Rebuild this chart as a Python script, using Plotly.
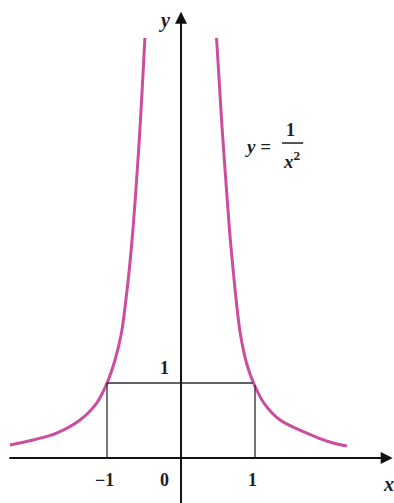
import plotly.graph_objects as go

# points, left and right branch of y = 1/x^2
left_x = [-2.31, -2.0, -1.68, -1.365, -1.14, -1.0, -0.892, -0.805, -0.745, -0.70,
          -0.65, -0.60, -0.556, -0.518, -0.488]
left_y = [0.173, 0.24, 0.333, 0.507, 0.733, 1.0, 1.307, 1.667, 2.107, 2.5,
          3.04, 3.71, 4.37, 5.04, 5.6]
right_x = [0.48, 0.515, 0.557, 0.605, 0.655, 0.705, 0.745, 0.80, 0.885, 0.98,
           1.12, 1.34, 1.70, 2.01, 2.24]
right_y = [5.6, 5.04, 4.37, 3.71, 3.04, 2.5, 2.107, 1.667, 1.267, 1.0,
           0.733, 0.507, 0.333, 0.213, 0.16]

tick_x = [-1, 0, 1]
tick_x_text = ["\u22121", "0", "1"]

curve_color = "#cc4c9e"
ink = "#1e1e24"
serif = "Liberation Serif"

fig = go.Figure()
for xs, ys in [(left_x, left_y), (right_x, right_y)]:
    fig.add_trace(go.Scatter(x=xs, y=ys, mode="lines",
                             line=dict(color=curve_color, width=3, shape="spline", smoothing=1.0),
                             hoverinfo="skip", showlegend=False))

# rectangle under the curve between -1 and 1
fig.add_shape(type="line", x0=-1, y0=0, x1=-1, y1=1, line=dict(color="#2b2b33", width=1.3))
fig.add_shape(type="line", x0=1, y0=0, x1=1, y1=0.97, line=dict(color="#2b2b33", width=1.3))
fig.add_shape(type="line", x0=-1, y0=1, x1=0.97, y1=1, line=dict(color="#2b2b3a", width=1.3))

# axes with arrows
fig.add_annotation(x=2.86, y=0, ax=-2.34, ay=0, axref="x", ayref="y", xref="x", yref="y",
                   showarrow=True, arrowhead=2, arrowsize=1.2, arrowwidth=2, arrowcolor="#111",
                   text="")
fig.add_annotation(x=0, y=5.95, ax=0, ay=-0.7, axref="x", ayref="y", xref="x", yref="y",
                   showarrow=True, arrowhead=2, arrowsize=1.2, arrowwidth=2, arrowcolor="#111",
                   text="")

for tx, tt in zip(tick_x, tick_x_text):
    xpos = tx - 0.22 if tx == 0 else tx - 0.03
    fig.add_annotation(x=xpos, y=-0.29, text="<b>" + tt + "</b>", showarrow=False,
                       font=dict(family=serif, size=18, color=ink))
fig.add_annotation(x=-0.22, y=1.2, text="<b>1</b>", showarrow=False,
                   font=dict(family=serif, size=18, color=ink))
fig.add_annotation(x=2.8, y=-0.35, text="<b><i>x</i></b>", showarrow=False,
                   font=dict(family=serif, size=20, color=ink))
fig.add_annotation(x=-0.22, y=5.84, text="<b><i>y</i></b>", showarrow=False,
                   font=dict(family=serif, size=20, color=ink))

# formula label
fig.add_annotation(x=1.04, y=4.15, text="<b><i>y</i> =</b>", showarrow=False,
                   font=dict(family=serif, size=19, color=ink))
fig.add_annotation(x=1.48, y=4.37, text="<b>1</b>", showarrow=False,
                   font=dict(family=serif, size=18, color=ink))
fig.add_annotation(x=1.5, y=3.97, text="<b><i>x</i><sup>2</sup></b>", showarrow=False,
                   font=dict(family=serif, size=19, color=ink))
fig.add_shape(type="line", x0=1.365, y0=4.2, x1=1.65, y1=4.2, line=dict(color=ink, width=1.5))

fig.update_layout(
    width=394, height=503, autosize=False,
    margin=dict(l=0, r=0, t=0, b=0),
    plot_bgcolor="white", paper_bgcolor="white",
    xaxis=dict(range=[-2.446, 2.878], visible=False, fixedrange=True),
    yaxis=dict(range=[-0.6, 6.107], visible=False, fixedrange=True),
)

fig.write_html("out.html", config={"displayModeBar": False},
               post_script="document.body.style.margin='0';")
